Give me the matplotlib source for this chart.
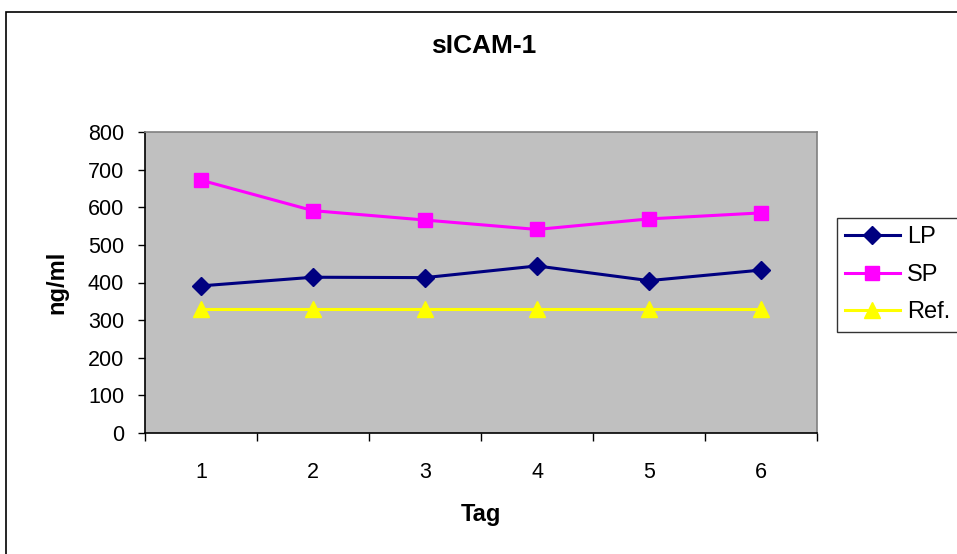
import matplotlib
matplotlib.use("Agg")
import matplotlib.pyplot as plt
from matplotlib.patches import Rectangle

days = [1, 2, 3, 4, 5, 6]
lp = [391, 414, 413, 444, 405, 433]
sp = [672, 591, 566, 541, 569, 585]
ref = [330, 330, 330, 330, 330, 330]
yticks = [0, 100, 200, 300, 400, 500, 600, 700, 800]

plt.rcParams['font.family'] = ['Liberation Sans', 'DejaVu Sans']

W, H = 957, 554
fig = plt.figure(figsize=(W / 100, H / 100), dpi=100)
fig.patch.set_facecolor('white')

# outer chart border
fig.add_artist(Rectangle((6 / W, -0.1), 1.2, 1 - 12 / H + 0.1, transform=fig.transFigure,
                         fill=False, edgecolor='black', linewidth=1.2))

ax = fig.add_axes([145 / W, 1 - 433 / H, (817 - 145) / W, (433 - 132) / H])
ax.set_facecolor('#C0C0C0')

ax.plot(days, lp, color='#000080', marker='D', markersize=9, linewidth=2.2, label='LP')
ax.plot(days, sp, color='#FF00FF', marker='s', markersize=10, linewidth=2.2, label='SP')
ax.plot(days, ref, color='#FFFF00', marker='^', markersize=11, linewidth=2.2, label='Ref.')

ax.set_xlim(0.5, 6.5)
ax.set_ylim(0, 800)
ax.set_yticks(yticks)
ax.set_yticklabels([str(v) for v in yticks], fontsize=15.5)
ax.set_xticks([x - 0.5 for x in days] + [6.5])
ax.set_xticklabels([])
ax.set_xticks(days, minor=True)
ax.set_xticklabels([str(d) for d in days], minor=True, fontsize=15.5)
ax.tick_params(axis='x', which='major', direction='out', length=6, width=1)
ax.tick_params(axis='x', which='minor', length=0, pad=21)
ax.tick_params(axis='y', direction='out', length=5, width=1, pad=10)

for s in ['top', 'right']:
    ax.spines[s].set_color('#808080')
    ax.spines[s].set_linewidth(1.2)
for s in ['left', 'bottom']:
    ax.spines[s].set_color('black')
    ax.spines[s].set_linewidth(1.2)

fig.text(484 / W, 1 - 46 / H, 'sICAM-1', ha='center', va='center', fontsize=19, fontweight='bold')
fig.text(57 / W, 1 - 282 / H, 'ng/ml', ha='center', va='center', rotation=90, fontsize=17, fontweight='bold')
fig.text(481 / W, 1 - 515 / H, 'Tag', ha='center', va='center', fontsize=17, fontweight='bold')

leg = fig.legend(loc='upper left', bbox_to_anchor=(837 / W, 1 - 218 / H), fontsize=17,
                 frameon=True, fancybox=False, edgecolor='black', handlelength=2.3,
                 borderpad=0.35, labelspacing=0.66, handletextpad=0.3, borderaxespad=0)
leg.get_frame().set_linewidth(1.0)

fig.savefig('out.png', dpi=100)
